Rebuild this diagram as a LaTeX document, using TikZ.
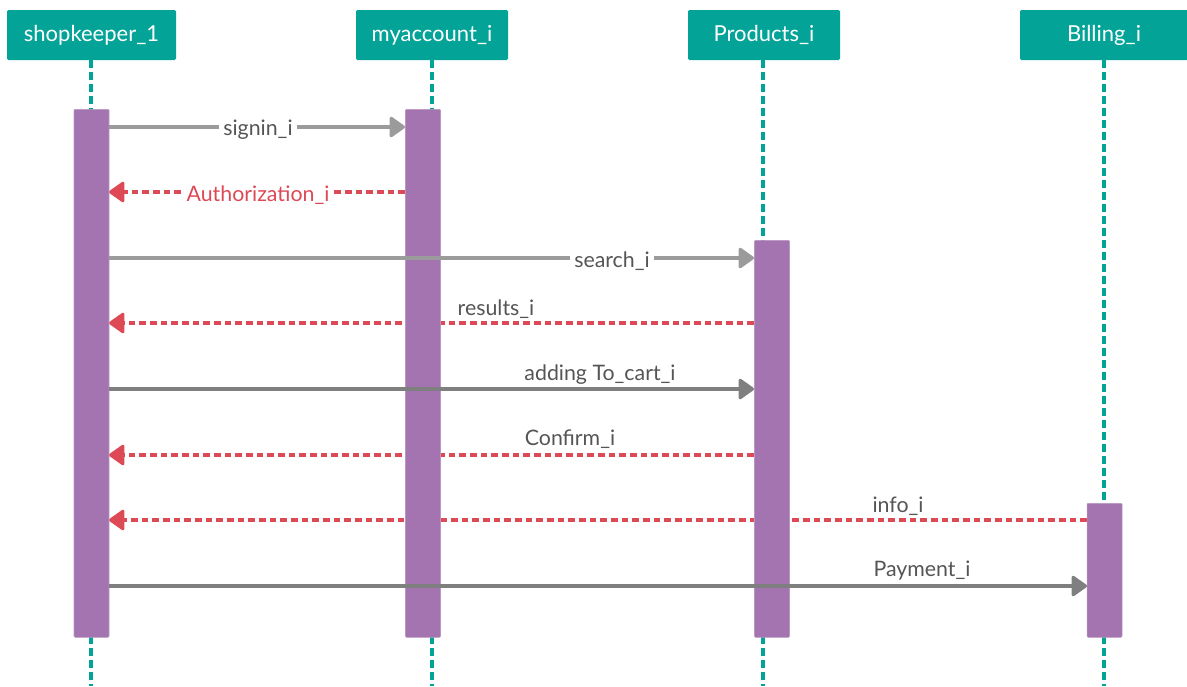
\documentclass[tikz,border=0pt]{standalone}
\usepackage{fontspec}
\setmainfont{Lato}
\usetikzlibrary{arrows.meta}

\definecolor{hdrteal}{HTML}{04A398}
\definecolor{barpurple}{HTML}{A374AF}
\definecolor{msggray}{HTML}{9B9B9B}
\definecolor{msgdark}{HTML}{7F7F7F}
\definecolor{retred}{HTML}{DD4A56}
\definecolor{labelgray}{HTML}{555555}

\tikzset{
  hdr/.style={fill=hdrteal, text=white, rounded corners=1pt, inner sep=0pt,
    minimum height=37.5pt, font=\fontsize{16.5}{20}\selectfont},
  lifeline/.style={draw=hdrteal, line width=2.4pt, dash pattern=on 6pt off 3pt},
  actbar/.style={fill=barpurple, draw=barpurple!75!white, line width=0.4pt,
    rounded corners=0.8pt, minimum width=26.25pt, inner sep=0pt, anchor=north},
  callmsg/.style={draw=msggray, line width=2.4pt,
    -{Triangle[length=12.5pt,width=17pt,round]}},
  calldark/.style={callmsg, draw=msgdark},
  retmsg/.style={draw=retred, line width=2.3pt, dash pattern=on 5pt off 3pt,
    -{Triangle[length=12.5pt,width=17pt,round]}},
  msglabel/.style={text=labelgray, font=\fontsize{16}{19}\selectfont, inner sep=3pt},
  onlabel/.style={msglabel, fill=white},
}

\begin{document}
\begin{tikzpicture}[x=0.75pt,y=-0.75pt]
\useasboundingbox (0,0) rectangle (1187,686);

% participants
\node[hdr, minimum width=126.75pt] (hSk) at (91.5,35) {shopkeeper\_1};
\node[hdr, minimum width=114pt]    (hAc) at (432,35)  {myaccount\_i};
\node[hdr, minimum width=114pt]    (hPr) at (764,35)  {Products\_i};
\node[hdr, minimum width=126pt]    (hBi) at (1104,35) {Billing\_i};

% lifeline ends
\coordinate (eSk) at (91,686);
\coordinate (eAc) at (432,686);
\coordinate (ePr) at (763,686);
\coordinate (eBi) at (1104,686);
\draw[lifeline] (hSk.south -| eSk) -- (eSk);
\draw[lifeline] (hAc.south -| eAc) -- (eAc);
\draw[lifeline] (hPr.south -| ePr) -- (ePr);
\draw[lifeline] (hBi.south -| eBi) -- (eBi);

% message end points
\coordinate (m1a) at (109,127);  \coordinate (m1b) at (405,127);
\coordinate (m2a) at (405,192);  \coordinate (m2b) at (109,192);
\coordinate (m3a) at (109,258);  \coordinate (m3b) at (754,258);
\coordinate (m4a) at (754,323);  \coordinate (m4b) at (109,323);
\coordinate (m5a) at (109,389);  \coordinate (m5b) at (754,389);
\coordinate (m6a) at (754,455);  \coordinate (m6b) at (109,455);
\coordinate (m7a) at (1087,520); \coordinate (m7b) at (109,520);
\coordinate (m8a) at (109,586);  \coordinate (m8b) at (1087,586);

% replies run behind the activation bars
\draw[retmsg] (m2a) -- (m2b);
\draw[retmsg] (m4a) -- (m4b);
\draw[retmsg] (m6a) -- (m6b);
\draw[retmsg] (m7a) -- (m7b);

% activation bars
\node[actbar, minimum height=396pt]    (aSk) at (91.5,109) {};
\node[actbar, minimum height=396pt]    (aAc) at (423,109)  {};
\node[actbar, minimum height=297.75pt] (aPr) at (772,240)  {};
\node[actbar, minimum height=100.5pt]  (aBi) at (1104.5,503) {};

% calls run over the bars
\draw[callmsg]  (m1a) -- (m1b);
\draw[callmsg]  (m3a) -- (m3b);
\draw[calldark] (m5a) -- (m5b);
\draw[calldark] (m8a) -- (m8b);

% message labels
\node[onlabel] (l1) at (258,130) {signin\_i};
\node[onlabel, text=retred] (l2) at (258,195) {Authorization\_i};
\node[onlabel] (l3) at (612,261) {search\_i};
\node[msglabel] (l4) at (496,309) {results\_i};
\node[msglabel] (l5) at (600,375) {adding To\_cart\_i};
\node[msglabel] (l6) at (570,439) {Confirm\_i};
\node[msglabel] (l7) at (898,506) {info\_i};
\node[msglabel] (l8) at (922,571) {Payment\_i};
\end{tikzpicture}
\end{document}
